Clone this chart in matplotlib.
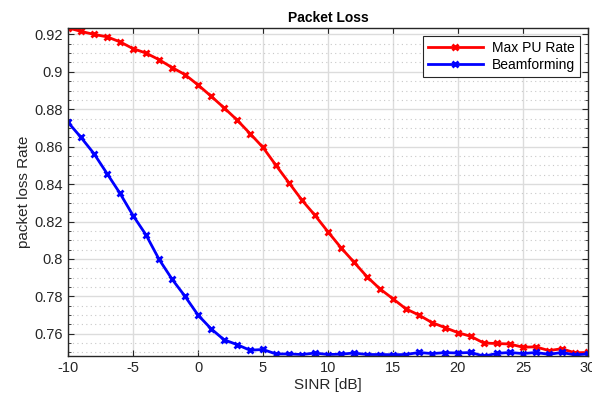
import numpy as np
import matplotlib
matplotlib.use("Agg")
from matplotlib import pyplot as plt
from matplotlib.ticker import MultipleLocator

plt.rcParams["font.family"] = ["Liberation Sans", "DejaVu Sans"]
plt.rcParams["axes.unicode_minus"] = False

sinr = list(range(-10, 31))

max_pu_rate = [
    0.9235, 0.9216, 0.9200, 0.9187, 0.9160, 0.9124, 0.9100, 0.9065, 0.9023, 0.8985,
    0.8930, 0.8870, 0.8808, 0.8743, 0.8670, 0.8596, 0.8500, 0.8407, 0.8314, 0.8233,
    0.8145, 0.8060, 0.7983, 0.7905, 0.7840, 0.7787, 0.7733, 0.7700, 0.7660, 0.7633,
    0.7606, 0.7586, 0.7550, 0.7548, 0.7545, 0.7528, 0.7530, 0.7510, 0.7520, 0.7498,
    0.7500,
]

beamforming = [
    0.8730, 0.8649, 0.8562, 0.8456, 0.8350, 0.8232, 0.8128, 0.7998, 0.7892, 0.7800,
    0.7700, 0.7627, 0.7568, 0.7542, 0.7512, 0.7516, 0.7492, 0.7492, 0.7489, 0.7497,
    0.7489, 0.7491, 0.7497, 0.7489, 0.7489, 0.7488, 0.7489, 0.7500, 0.7494, 0.7499,
    0.7497, 0.7500, 0.7480, 0.7495, 0.7500, 0.7494, 0.7500, 0.7490, 0.7500, 0.7487,
    0.7492,
]

fig = plt.figure(figsize=(5.92, 3.98), dpi=100)
ax = fig.add_axes([0.115, 0.105, 0.878, 0.825])

ax.plot(sinr, max_pu_rate, color="#ff0000", lw=2, marker="x", ms=5, mew=2,
        label="Max PU Rate")
ax.plot(sinr, beamforming, color="#0000ff", lw=2, marker="x", ms=5, mew=2,
        label="Beamforming")

ax.set_xlim(-10, 30)
all_vals = max_pu_rate + beamforming
ax.set_ylim(min(all_vals), max(all_vals))

ax.xaxis.set_major_locator(MultipleLocator(5))
ax.yaxis.set_minor_locator(MultipleLocator(0.005))
ax.set_yticks(np.arange(0.76, 0.921, 0.02))
ax.set_yticklabels(["0.76", "0.78", "0.8", "0.82", "0.84", "0.86", "0.88", "0.9", "0.92"])

ax.grid(True, which="major", color="#dcdcdc", lw=1, ls="-")
ax.grid(True, which="minor", axis="y", color="#c8c8c8", lw=0.8, ls=(0, (1, 3)))
ax.set_axisbelow(True)

ax.tick_params(which="both", direction="in", top=True, right=True,
               labelsize=10.5, colors="#262626", length=4)
ax.tick_params(which="minor", length=2.5)
for s in ax.spines.values():
    s.set_color("#262626")
    s.set_linewidth(1)

ax.set_title("Packet Loss", fontsize=10, fontweight="bold", pad=4)
ax.set_xlabel("SINR [dB]", fontsize=11, color="#262626", labelpad=2)
ax.set_ylabel("packet loss Rate", fontsize=11, color="#262626", labelpad=3)

leg = ax.legend(loc="upper right", fontsize=10, frameon=True, fancybox=False,
                edgecolor="#262626", framealpha=1, handlelength=4, numpoints=1,
                borderpad=0.35, labelspacing=0.2, borderaxespad=0.6,
                handletextpad=0.6)
leg.get_frame().set_linewidth(0.8)

fig.savefig("out.png", dpi=100)
